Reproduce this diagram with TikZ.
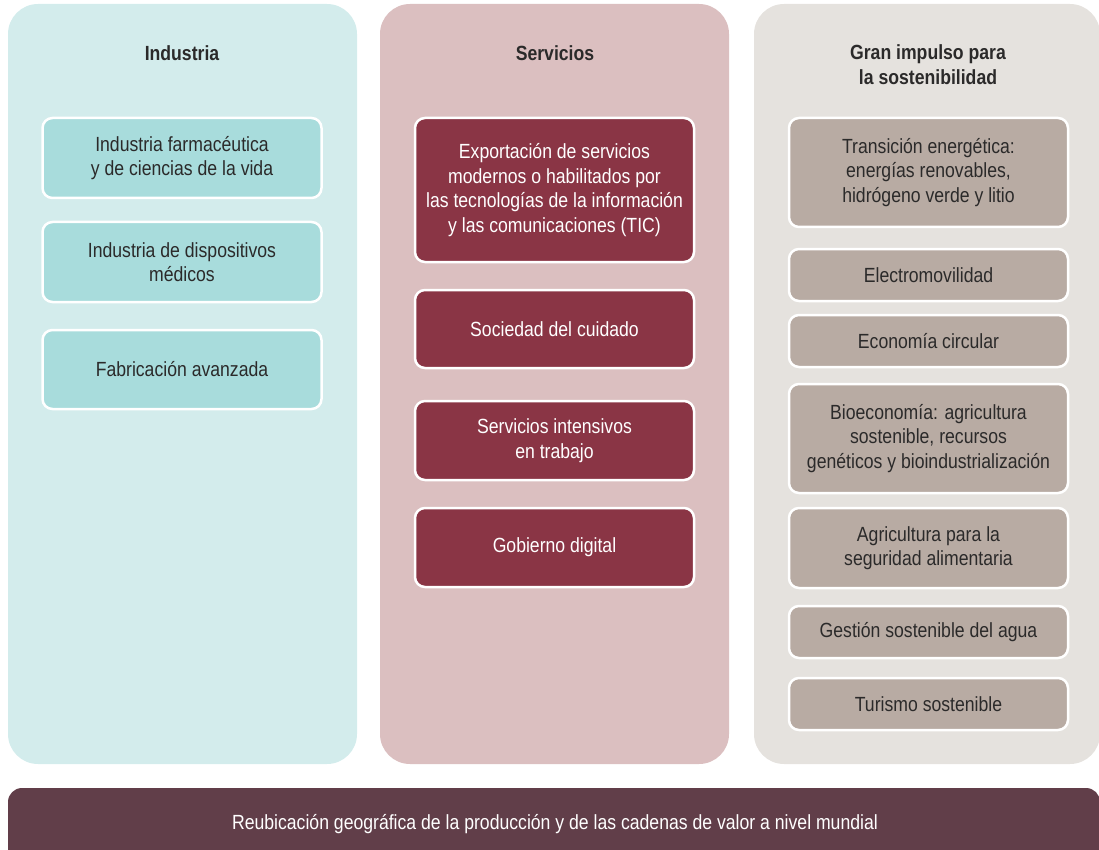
\documentclass[tikz,border=0pt]{standalone}
\usepackage{fontspec}
\setmainfont{Liberation Sans}[FakeStretch=0.86]
\usetikzlibrary{positioning}
\definecolor{indpanel}{HTML}{D3ECEC}
\definecolor{indbox}{HTML}{A8DCDC}
\definecolor{serpanel}{HTML}{DBBFC0}
\definecolor{serbox}{HTML}{8A3545}
\definecolor{sospanel}{HTML}{E5E2DE}
\definecolor{sosbox}{HTML}{B8ABA3}
\definecolor{reubar}{HTML}{613E49}
\definecolor{txtdark}{HTML}{2B2A2A}
\tikzset{
	panel/.style={rounded corners=30pt},
	title/.style={text=txtdark, align=center, font=\fontsize{20.5}{25}\selectfont\bfseries},
	item/.style={draw=white, line width=2.5pt, rounded corners=10pt, align=center, minimum width=279pt, text=txtdark, font=\fontsize{20.5}{24.5}\selectfont},
	inditem/.style={item, fill=indbox},
	seritem/.style={item, fill=serbox, text=white},
	sositem/.style={item, fill=sosbox}
}

\begin{document}
\begin{tikzpicture}[x=1pt, y=-1pt]
		\useasboundingbox (0,0) rectangle (1099,850);
		% columns
		\fill[panel, indpanel] (8,4) rectangle (357,764);
		\fill[panel, serpanel] (380,4) rectangle (729,764);
		\fill[panel, sospanel] (754,4) rectangle (1100,764);
		\fill[panel, rounded corners=14pt, reubar] (8,788) rectangle (1100,880);
		% titles
		\node[title] (industria) at (182,53) {Industria};
		\node[title] (servicios) at (555,53) {Servicios};
		\node[title] (sostenibilidad) at (928,65) {Gran impulso para\\la sostenibilidad};
		% industria
		\node[inditem, minimum height=80pt] (farma) at (182,158) {Industria farmacéutica\\y de ciencias de la vida};
		\node[inditem, minimum height=80pt] (medicos) at (182,262) {Industria de dispositivos\\médicos};
		\node[inditem, minimum height=79pt] (fabricacion) at (182,369.5) {Fabricación avanzada};
		% servicios
		\node[seritem, minimum height=144pt] (exportacion) at (554.5,190) {Exportación de servicios\\modernos o habilitados por\\las tecnologías de la información\\y las comunicaciones (TIC)};
		\node[seritem, minimum height=78pt] (cuidado) at (554.5,329) {Sociedad del cuidado};
		\node[seritem, minimum height=79pt] (intensivos) at (554.5,440.5) {Servicios intensivos\\en trabajo};
		\node[seritem, minimum height=79pt] (gobierno) at (554.5,547.5) {Gobierno digital};
		% sostenibilidad
		\node[sositem, minimum height=109pt] (transicion) at (928.5,172.5) {Transición energética:\\energías renovables,\\hidrógeno verde y litio};
		\node[sositem, minimum height=52pt] (electro) at (928.5,275) {Electromovilidad};
		\node[sositem, minimum height=52pt] (circular) at (928.5,341) {Economía circular};
		\node[sositem, minimum height=109pt] (bioeconomia) at (928.5,438.5) {Bioeconomía: agricultura\\sostenible, recursos\\genéticos y bioindustrialización};
		\node[sositem, minimum height=80pt] (alimentaria) at (928.5,548) {Agricultura para la\\seguridad alimentaria};
		\node[sositem, minimum height=52pt] (agua) at (928.5,632) {Gestión sostenible del agua};
		\node[sositem, minimum height=52pt] (turismo) at (928.5,704) {Turismo sostenible};
		% reubicacion
		\node[text=white, font=\fontsize{20.5}{24.5}\selectfont] (reubicacion) at (555,824) {Reubicación geográfica de la producción y de las cadenas de valor a nivel mundial};
\end{tikzpicture}
\end{document}
